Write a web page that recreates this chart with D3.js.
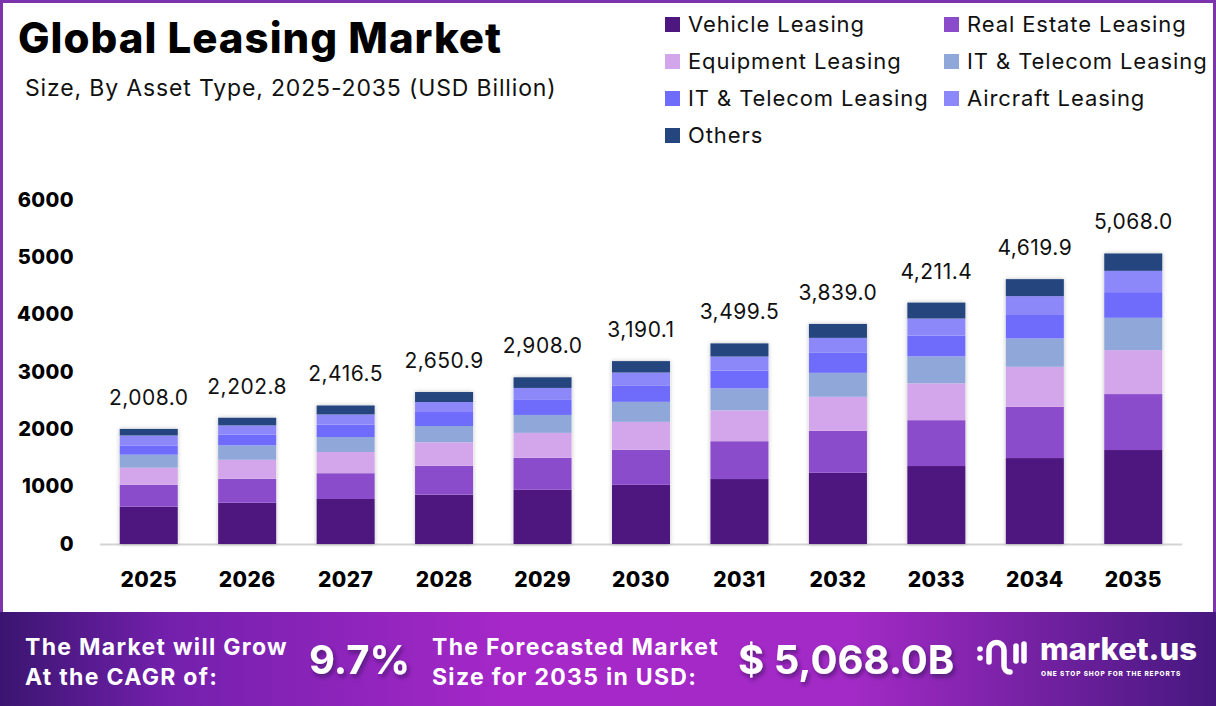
<!DOCTYPE html>
<html>
<head>
<meta charset="utf-8">
<script src="https://cdn.jsdelivr.net/npm/d3@7"></script>
<style>
  body { margin: 0; background: #fff; }
  svg { display: block; font-family: Inter, "Noto Sans", sans-serif; }
</style>
</head>
<body>
<div id="chart"></div>
<script>
// data
const years = ["2025", "2026", "2027", "2028", "2029", "2030", "2031", "2032", "2033", "2034", "2035"];
const vehicle    = [650, 720, 785, 860, 945, 1032, 1133, 1242, 1360, 1499, 1639];
const realEstate = [384, 418, 450, 506, 558, 610, 660, 732, 800, 894, 976];
const equipment  = [296, 331, 370, 407, 435, 488, 538, 593, 643, 697, 767];
const itTelecomA = [227, 250, 261, 285, 313, 349, 382, 418, 469, 494, 563];
const itTelecomB = [163, 192, 219, 244, 262, 279, 313, 349, 365, 424, 448];
const aircraft   = [172, 157, 174, 174, 209, 232, 243, 261, 295, 314, 371];
const others     = [116, 134.8, 157.5, 174.9, 186, 200.1, 230.5, 244, 279.4, 297.9, 304];

const seriesKeys   = ["vehicle", "realEstate", "equipment", "itA", "itB", "aircraft", "others"];
const seriesNames  = ["Vehicle Leasing", "Real Estate Leasing", "Equipment Leasing", "IT & Telecom Leasing",
                      "IT & Telecom Leasing", "Aircraft Leasing", "Others"];
const seriesColors = ["#4e177f", "#8a4ccb", "#d3a5ea", "#8fa8d9", "#6f6cfb", "#8c88fa", "#25457f"];
const yTicks = [0, 1000, 2000, 3000, 4000, 5000, 6000];

const cagr = "9.7%";
const forecast = "$ 5,068.0B";

const W = 1216, H = 706;

const rows = years.map((y, i) => ({
    year: y,
    vehicle: vehicle[i], realEstate: realEstate[i], equipment: equipment[i],
    itA: itTelecomA[i], itB: itTelecomB[i], aircraft: aircraft[i], others: others[i]
}));

const svg = d3.select("#chart").append("svg")
    .attr("width", W)
    .attr("height", H);

const defs = svg.append("defs");

const shadow = defs.append("filter").attr("id", "barShadow")
    .attr("x", "-20%").attr("y", "-10%").attr("width", "140%").attr("height", "120%");
shadow.append("feDropShadow").attr("dx", 0).attr("dy", 0).attr("stdDeviation", 2)
    .attr("flood-color", "#000").attr("flood-opacity", 0.25);

const txtShadow = defs.append("filter").attr("id", "txtShadow")
    .attr("x", "-10%").attr("y", "-20%").attr("width", "130%").attr("height", "150%");
txtShadow.append("feDropShadow").attr("dx", 2).attr("dy", 3).attr("stdDeviation", 2)
    .attr("flood-color", "#2a0a50").attr("flood-opacity", 0.6);

const grad = defs.append("linearGradient").attr("id", "bannerGrad")
    .attr("x1", "0%").attr("x2", "100%").attr("y1", "0%").attr("y2", "0%");
[["0%", "#3a1570"], ["14%", "#7420ad"], ["42%", "#a628c8"], ["70%", "#a32ac6"], ["100%", "#46187f"]]
    .forEach(([o, c]) => grad.append("stop").attr("offset", o).attr("stop-color", c));

// frame
svg.append("rect").attr("x", 1.5).attr("y", 1.5).attr("width", W - 3).attr("height", H - 3)
    .attr("fill", "#fff").attr("stroke", "#7d33ad").attr("stroke-width", 3);

// title
svg.append("text").attr("x", 18).attr("y", 53)
    .attr("font-size", 42).attr("font-weight", 800).attr("fill", "#000")
    .attr("letter-spacing", 1)
    .text("Global Leasing Market");
svg.append("text").attr("x", 25).attr("y", 96)
    .attr("font-size", 23).attr("fill", "#111").attr("letter-spacing", 0.85)
    .text("Size, By Asset Type, 2025-2035 (USD Billion)");

// legend
const legend = svg.append("g");
seriesKeys.forEach((k, i) => {
    const col = i % 2, row = Math.floor(i / 2);
    const g = legend.append("g").attr("transform", `translate(${col ? 944 : 665}, ${24 + row * 37})`);
    g.append("rect").attr("x", 0).attr("y", -7).attr("width", 15).attr("height", 15).attr("fill", seriesColors[i]);
    g.append("text").attr("x", 23).attr("y", 8).attr("font-size", 22).attr("fill", "#111")
        .attr("letter-spacing", 0.9)
        .text(seriesNames[i]);
});

// scales
const x = d3.scaleBand().domain(years).range([100, 1182]).paddingInner(0.41).paddingOuter(0.2);
const y = d3.scaleLinear().domain([0, 6000]).range([544, 200]);
const color = d3.scaleOrdinal().domain(seriesKeys).range(seriesColors);

const stacked = d3.stack().keys(seriesKeys)(rows);

// baseline
svg.append("line").attr("x1", 100).attr("x2", 1182).attr("y1", 544.5).attr("y2", 544.5)
    .attr("stroke", "#d4d4d4").attr("stroke-width", 2);

// bar shadows (one rect per bar)
svg.append("g").selectAll("rect").data(rows).join("rect")
    .attr("x", d => x(d.year))
    .attr("width", x.bandwidth())
    .attr("y", d => y(d3.sum(seriesKeys, k => d[k])))
    .attr("height", d => y(0) - y(d3.sum(seriesKeys, k => d[k])))
    .attr("fill", "#fff")
    .attr("filter", "url(#barShadow)");

svg.append("g").selectAll("g").data(stacked).join("g")
    .attr("fill", d => color(d.key))
    .selectAll("rect").data(d => d).join("rect")
    .attr("x", d => x(d.data.year))
    .attr("width", x.bandwidth())
    .attr("y", d => y(d[1]))
    .attr("height", d => y(d[0]) - y(d[1]));

// totals
const fmt = d3.format(",.1f");
svg.append("g").selectAll("text").data(rows).join("text")
    .attr("x", d => x(d.year) + x.bandwidth() / 2)
    .attr("y", d => y(d3.sum(seriesKeys, k => d[k])) - 24)
    .attr("text-anchor", "middle")
    .attr("font-size", 21)
    .attr("letter-spacing", 0.5)
    .attr("fill", "#111")
    .text(d => fmt(d3.sum(seriesKeys, k => d[k])));

// axes
const yAxis = svg.append("g").attr("transform", "translate(82,0)")
    .call(d3.axisLeft(y).tickValues(yTicks).tickSize(0).tickPadding(8).tickFormat(d3.format("d")));
yAxis.select(".domain").remove();
yAxis.selectAll("text").attr("font-size", 20).attr("font-weight", 800).attr("fill", "#000")
    .attr("font-family", "Inter, sans-serif").attr("dy", "0.3em").attr("letter-spacing", 0.4);

const xAxis = svg.append("g").attr("transform", "translate(0,544)")
    .call(d3.axisBottom(x).tickSize(0).tickPadding(28));
xAxis.select(".domain").remove();
xAxis.selectAll("text").attr("font-size", 21).attr("font-weight", 800).attr("fill", "#000")
    .attr("font-family", "Inter, sans-serif").attr("letter-spacing", 0.4);

// banner
const banner = svg.append("g").attr("transform", "translate(0,612)");
banner.append("rect").attr("width", W).attr("height", H - 612).attr("fill", "url(#bannerGrad)");

const bText = (xx, yy, s, size) => banner.append("text").attr("x", xx).attr("y", yy)
    .attr("font-size", size).attr("font-weight", 700).attr("fill", "#fff").text(s);

bText(25, 43, "The Market will Grow", 23).attr("letter-spacing", 1.3);
bText(25, 73, "At the CAGR of:", 23).attr("letter-spacing", 1.3);
bText(309, 62, cagr, 40).attr("filter", "url(#txtShadow)");
bText(432, 43, "The Forecasted Market", 23).attr("letter-spacing", 1.3);
bText(432, 73, "Size for 2035 in USD:", 23).attr("letter-spacing", 1.3);
bText(738, 62, forecast, 40).attr("filter", "url(#txtShadow)");

// market.us logo
const logo = banner.append("g").attr("transform", "translate(975,28)")
    .attr("fill", "none").attr("stroke", "#fff").attr("stroke-width", 5.5).attr("stroke-linecap", "round");
logo.append("path").attr("d", "M14,22 L14,10 A7.5,7.5 0 0 1 29,10 L29,26 A6,6 0 0 0 35,32");
logo.append("line").attr("x1", 41).attr("x2", 41).attr("y1", 6).attr("y2", 21);
logo.append("line").attr("x1", 49).attr("x2", 49).attr("y1", 4).attr("y2", 21);
logo.append("circle").attr("cx", 5).attr("cy", 9).attr("r", 2.8).attr("fill", "#fff").attr("stroke", "none");
logo.append("circle").attr("cx", 5).attr("cy", 18).attr("r", 2.8).attr("fill", "#fff").attr("stroke", "none");

bText(1040, 48, "market.us", 31).attr("font-weight", 800);
bText(1041, 64, "ONE STOP SHOP FOR THE REPORTS", 6.5).attr("letter-spacing", 0.9).attr("font-weight", 800);
</script>
</body>
</html>
